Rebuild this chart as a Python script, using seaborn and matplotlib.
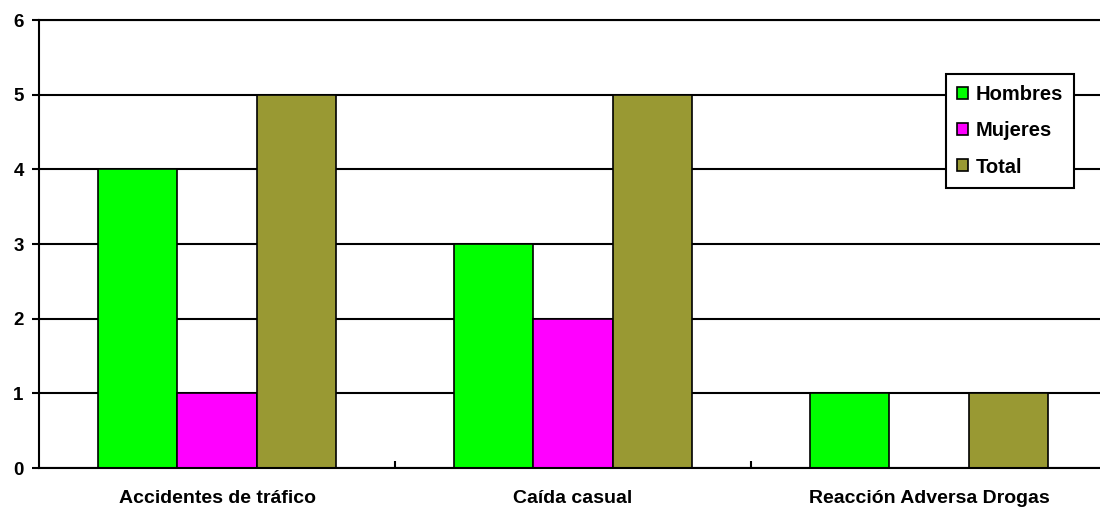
import matplotlib
matplotlib.use("Agg")
import matplotlib.pyplot as plt
from matplotlib.ticker import FixedLocator
import pandas as pd
import seaborn as sns

categorias = ["Accidentes de tráfico", "Caída casual", "Reacción Adversa Drogas"]
hombres = [4, 3, 1]
mujeres = [1, 2, 0]
total = [5, 5, 1]
series = ["Hombres", "Mujeres", "Total"]
colores = ["#00FF00", "#FF00FF", "#999933"]
yticks = [0, 1, 2, 3, 4, 5, 6]

df = pd.DataFrame({
    "categoria": categorias * 3,
    "serie": [s for s in series for _ in categorias],
    "valor": hombres + mujeres + total,
})

sns.set_style("white")
plt.rcParams["font.family"] = ["Liberation Sans", "DejaVu Sans"]
plt.rcParams["font.weight"] = "bold"
plt.rcParams["text.color"] = "black"
plt.rcParams["xtick.color"] = "black"
plt.rcParams["ytick.color"] = "black"

fig = plt.figure(figsize=(11, 5.11), dpi=100)
ax = fig.add_axes([39 / 1100, 43 / 511, 1061 / 1100, 448 / 511])

sns.barplot(
    data=df, x="categoria", y="valor", hue="serie",
    order=categorias, hue_order=series, palette=colores, saturation=1,
    width=0.67, edgecolor="black", linewidth=1.2, ax=ax,
)

ax.set_xlim(-0.5, 2.48)
ax.set_ylim(0, 6)
ax.set_yticks(yticks)
ax.set_xlabel("")
ax.set_ylabel("")

ax.set_axisbelow(True)
ax.yaxis.grid(True, color="black", linewidth=1.5)
ax.xaxis.grid(False)

for side in ["left", "bottom", "top"]:
    ax.spines[side].set_color("black")
    ax.spines[side].set_linewidth(1.5)
ax.spines["right"].set_visible(False)

ax.tick_params(axis="y", left=True, length=5, width=1.5, color="black",
               pad=6, labelsize=13.5, labelcolor="black")
ax.tick_params(axis="x", bottom=False, pad=12, labelsize=14, labelcolor="black")
ax.xaxis.set_minor_locator(FixedLocator([0.5, 1.5]))
ax.tick_params(axis="x", which="minor", bottom=True, direction="in",
               length=5, width=1.5, color="black")
for lbl in ax.get_xticklabels() + ax.get_yticklabels():
    lbl.set_fontweight("bold")

ax.legend_.remove()
handles = [plt.Rectangle((0, 0), 1, 1, facecolor=c, edgecolor="black", linewidth=1.2)
           for c in colores]
leg = ax.legend(handles, series, loc="upper left", bbox_to_anchor=(0.855, 0.879),
                borderaxespad=0, frameon=True, fancybox=False, framealpha=1,
                edgecolor="black", handlelength=0.55, handleheight=0.55,
                handletextpad=0.35, labelspacing=0.85, borderpad=0.55,
                prop={"size": 14.5, "weight": "bold"})
leg.get_frame().set_linewidth(1.5)
for t in leg.get_texts():
    t.set_color("black")

fig.savefig("out.png", dpi=100)
